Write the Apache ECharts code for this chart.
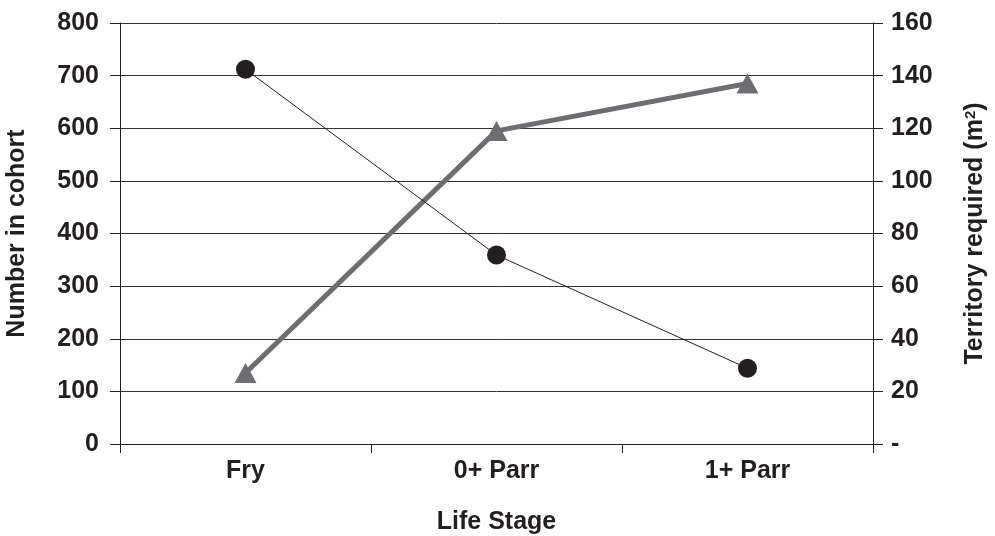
<!DOCTYPE html>
<html><head><meta charset="utf-8">
<script src="https://cdn.jsdelivr.net/npm/echarts@6/dist/echarts.min.js"></script>
<style>html,body{margin:0;padding:0;background:#fff}#c{width:995px;height:536px}</style>
</head><body><div id="c"></div>
<script>
const categories = ['Fry', '0+ Parr', '1+ Parr'];
const numberInCohort = [712, 359, 144];
const territoryRequired = [27, 119, 137];
const leftTicks = {min: 0, max: 800, interval: 100};
const rightTicks = {min: 0, max: 160, interval: 20};

const font = '"Liberation Sans", Arial, sans-serif';
const chart = echarts.init(document.getElementById('c'), null, {renderer: 'canvas'});
const lbl = {color: '#231f20', fontFamily: font, fontWeight: 'bold', fontSize: 25};
chart.setOption({
  animation: false,
  grid: {left: 120, right: 122, top: 23, bottom: 92, containLabel: false, outerBoundsMode: 'none'},
  xAxis: {
    type: 'category', data: categories, boundaryGap: true,
    name: 'Life Stage', nameLocation: 'middle', nameGap: 66,
    nameTextStyle: lbl,
    axisLine: {lineStyle: {color: '#231f20', width: 1}},
    axisTick: {show: true, length: 9, lineStyle: {color: '#231f20'}},
    axisLabel: Object.assign({margin: 15}, lbl)
  },
  yAxis: [{
    type: 'value', min: leftTicks.min, max: leftTicks.max, interval: leftTicks.interval,
    name: 'Number in cohort', nameLocation: 'middle', nameGap: 90, nameRotate: 90,
    nameTextStyle: lbl,
    axisLine: {show: true, lineStyle: {color: '#231f20', width: 1}},
    axisTick: {show: true, length: 10, lineStyle: {color: '#231f20'}},
    axisLabel: Object.assign({margin: 21}, lbl),
    splitLine: {show: true, lineStyle: {color: '#333333', width: 1}}
  }, {
    type: 'value', min: rightTicks.min, max: rightTicks.max, interval: rightTicks.interval,
    name: '{a|Territory required (m}{s|2}{a|)}', nameLocation: 'middle', nameGap: 90, nameRotate: 90,
    nameTextStyle: Object.assign({}, lbl, {rich: {
      a: {color: '#231f20', fontFamily: font, fontWeight: 'bold', fontSize: 25},
      s: {color: '#231f20', fontFamily: font, fontWeight: 'bold', fontSize: 15, verticalAlign: 'top', padding: [0, 0, 10, 0]}
    }}),
    axisLine: {show: true, lineStyle: {color: '#231f20', width: 1}},
    axisTick: {show: true, length: 10, lineStyle: {color: '#231f20'}},
    axisLabel: Object.assign({margin: 18, formatter: v => v === 0 ? '-' : String(v)}, lbl),
    splitLine: {show: false}
  }],
  series: [{
    type: 'line', yAxisIndex: 0, data: numberInCohort,
    symbol: 'circle', symbolSize: 19,
    itemStyle: {color: '#231f20'},
    lineStyle: {color: '#231f20', width: 1}, z: 3
  }, {
    type: 'line', yAxisIndex: 1, data: territoryRequired,
    symbol: 'triangle', symbolSize: [22, 20],
    itemStyle: {color: '#6d6e71'},
    lineStyle: {color: '#6d6e71', width: 5}, z: 2
  }]
});
</script></body></html>
